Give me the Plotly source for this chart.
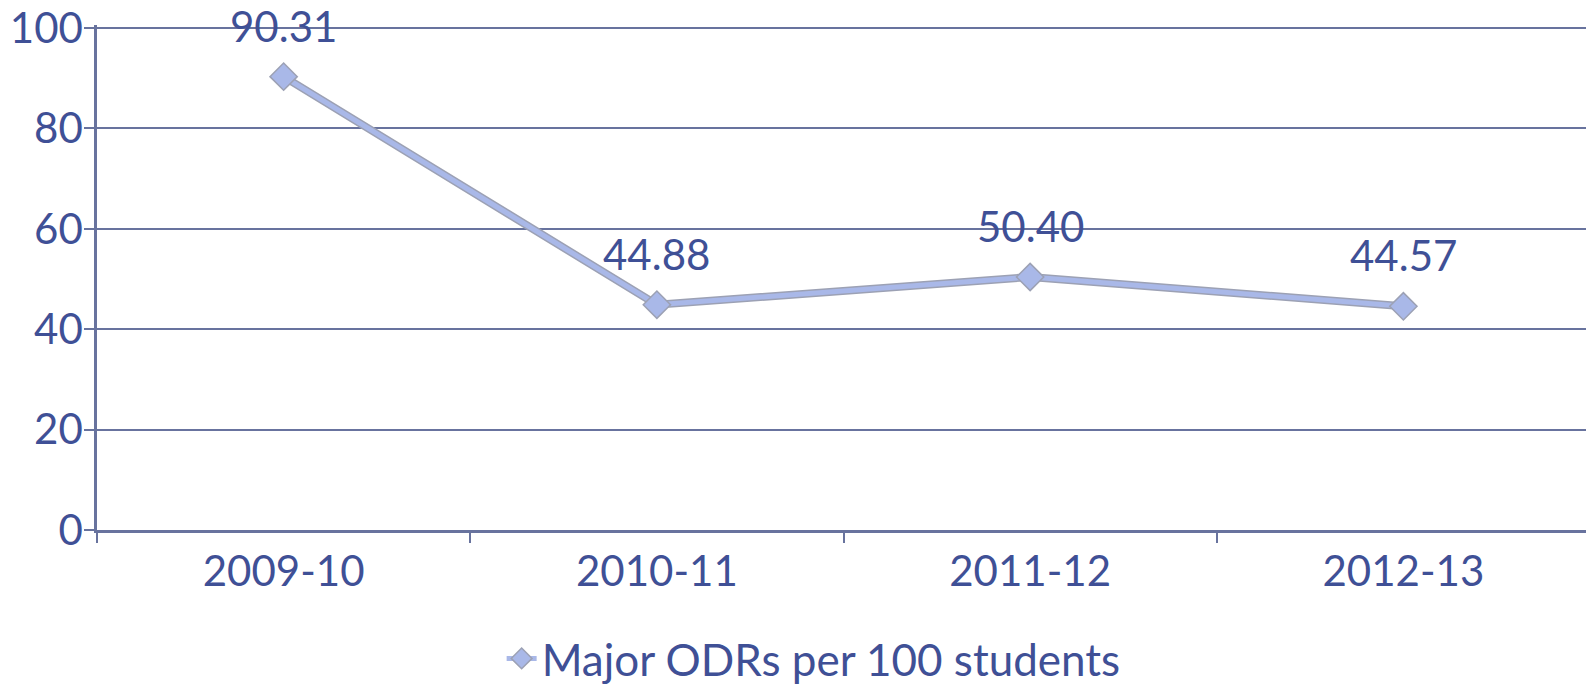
import plotly.graph_objects as go

categories = ["2009-10", "2010-11", "2011-12", "2012-13"]
values = [90.31, 44.88, 50.40, 44.57]
labels = ["90.31", "44.88", "50.40", "44.57"]
series_name = "Major ODRs per 100 students"

TEXT = "#3F5096"
GRID = "#68739E"
LINE = "#A9B8E8"
EDGE = "#9CA1B4"
FONT = "Lato"
FS = 42

fig = go.Figure()
# gray outline under the line
fig.add_trace(go.Scatter(
    x=categories, y=values, mode="lines",
    line=dict(color=EDGE, width=8), showlegend=False, hoverinfo="skip"))
fig.add_trace(go.Scatter(
    x=categories, y=values, mode="lines+markers", name=series_name,
    line=dict(color=LINE, width=5),
    marker=dict(symbol="diamond", size=21, color=LINE,
                line=dict(color=EDGE, width=1.5))))

for c, v, t in zip(categories, values, labels):
    fig.add_annotation(x=c, y=v, text=t, showarrow=False, yshift=51,
                       font=dict(family=FONT, size=FS, color=TEXT))

fig.update_layout(
    width=1586, height=676,
    margin=dict(l=89, r=4, t=17, b=154, autoexpand=False),
    paper_bgcolor="white", plot_bgcolor="white",
    font=dict(family=FONT, size=FS, color=TEXT),
    showlegend=True,
    legend=dict(orientation="h", x=0.48, xanchor="center", y=-0.255, yanchor="middle",
                font=dict(family=FONT, size=44, color=TEXT),
                itemwidth=30, bgcolor="rgba(0,0,0,0)"),
)
fig.update_xaxes(
    type="category", range=[-0.5, 3.5], automargin=False,
    showline=True, linecolor=GRID, linewidth=2.5,
    ticks="outside", tickson="boundaries", ticklen=10, tickcolor=GRID, tickwidth=2,
    showgrid=False, tickfont=dict(family=FONT, size=FS, color=TEXT),
    ticklabelstandoff=3)
fig.update_yaxes(
    range=[0, 100.6], tickvals=[0, 20, 40, 60, 80, 100], automargin=False,
    showline=True, linecolor=GRID, linewidth=2.5,
    ticks="outside", ticklen=10, tickcolor=GRID, tickwidth=2,
    showgrid=True, gridcolor=GRID, gridwidth=2, zeroline=False,
    ticklabeloverflow="allow",
    tickfont=dict(family=FONT, size=FS, color=TEXT), ticklabelstandoff=-7)

fig.write_html("out.html")
